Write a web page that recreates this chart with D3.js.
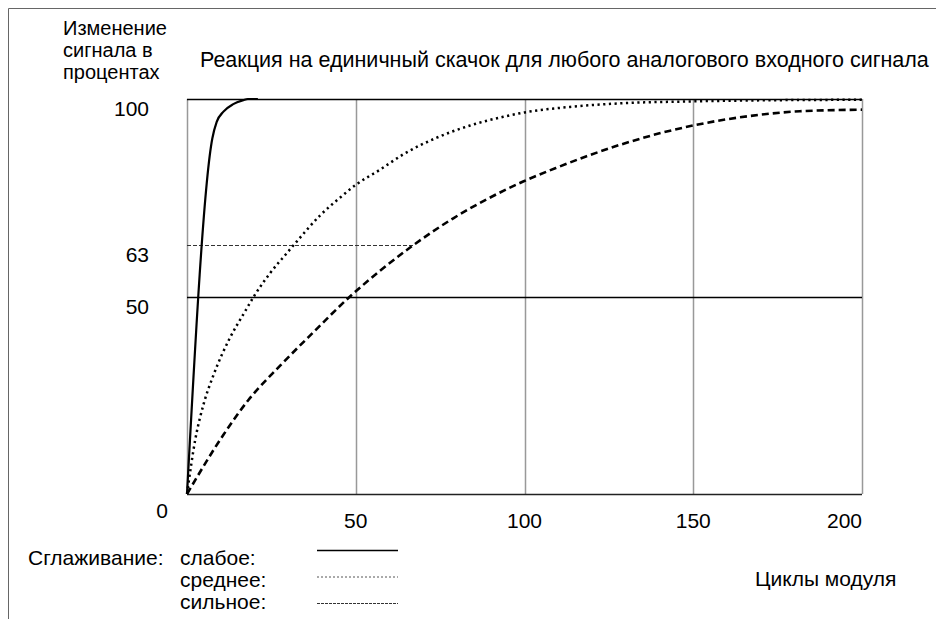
<!DOCTYPE html>
<html><head><meta charset="utf-8">
<script src="https://cdn.jsdelivr.net/npm/d3@7/dist/d3.min.js"></script>
<style>
html,body{margin:0;padding:0;background:#fff;}
svg{display:block;font-family:"Liberation Sans",Arial,sans-serif;}
</style></head>
<body><svg id="chart" width="936" height="619"></svg>
<script>
// ---- data ----
const xTicks = [0, 50, 100, 150, 200];
const yTicks = [100, 63, 50];
const weakX = [0, 7.5, 8.8, 10.8, 13.7, 16.7, 18, 21];
const weakY = [0, 90, 94.2, 96.8, 98.7, 99.7, 100, 100];
const mediumX = [0, 2.5, 5, 7.8, 12.7, 16.7, 20.1, 24.6, 29.5, 32.5, 39.4, 45.3, 50.2, 57, 64.1, 74, 83.9, 93.7, 100, 113.5, 128.3, 150, 175, 200];
const mediumY = [0, 14, 23, 30, 39.5, 45.5, 50.4, 55.9, 60.9, 63.9, 70.5, 75, 78.4, 82, 86, 90.2, 93.3, 95.5, 96.6, 98, 98.9, 99.4, 99.7, 99.8];
const strongX = [0, 10.8, 18.2, 27.6, 37.5, 48.3, 57.2, 66.1, 78.9, 88.8, 99.6, 109.5, 118.4, 128.3, 140, 150, 166.8, 181.6, 200];
const strongY = [0, 15, 23.8, 32.5, 41, 50, 56.5, 62.4, 69.8, 74.6, 79.1, 82.6, 85.5, 88.4, 91.3, 93.3, 95.7, 96.9, 97.3];
const refLevel = 63, refEnd = 67;
const yTitle = ["Изменение", "сигнала в", "процентах"];
const title = "Реакция на единичный скачок для любого аналогового входного сигнала";
const legendTitle = "Сглаживание:";
const legendLabels = ["слабое:", "среднее:", "сильное:"];
const xTitle = "Циклы модуля";

// ---- drawing ----
const svg = d3.select("#chart");
const x = d3.scaleLinear().domain([0, 200]).range([187, 862]);
const y = d3.scaleLinear().domain([0, 100]).range([494, 99]);

// frame
svg.append("path").attr("d", "M8.5,619V8.5H936").attr("fill", "none").attr("stroke", "#666").attr("stroke-width", 1);

// vertical gridlines (gray)
svg.selectAll(".vg").data(xTicks).enter().append("line")
  .attr("x1", d => Math.round(x(d)) + 0.5).attr("x2", d => Math.round(x(d)) + 0.5)
  .attr("y1", y(100)).attr("y2", y(0))
  .attr("stroke", "#999").attr("stroke-width", 1.5);

// horizontal lines 100 and 50 (black) and bottom axis
svg.selectAll(".hg").data([100, 50, 0]).enter().append("line")
  .attr("x1", x(0)).attr("x2", x(200))
  .attr("y1", d => Math.round(y(d)) + 0.5).attr("y2", d => Math.round(y(d)) + 0.5)
  .attr("stroke", d => d === 0 ? "#222" : "#000").attr("stroke-width", 1.3);

// 63 reference
svg.append("line").attr("x1", x(0)).attr("x2", x(refEnd))
  .attr("y1", Math.round(y(refLevel)) + 0.5).attr("y2", Math.round(y(refLevel)) + 0.5)
  .attr("stroke", "#333").attr("stroke-width", 1).attr("stroke-dasharray", "4,2");

const line = d3.line().x(d => x(d[0])).y(d => y(d[1])).curve(d3.curveMonotoneX);
const zip = (a, b) => a.map((v, i) => [v, b[i]]);

svg.append("path").datum(zip(strongX, strongY)).attr("d", line)
  .attr("fill", "none").attr("stroke", "#000").attr("stroke-width", 2.6).attr("stroke-dasharray", "7,4");
svg.append("path").datum(zip(mediumX, mediumY)).attr("d", line)
  .attr("fill", "none").attr("stroke", "#000").attr("stroke-width", 2.5).attr("stroke-dasharray", "2.2,3.5");
svg.append("path").datum(zip(weakX, weakY)).attr("d", line)
  .attr("fill", "none").attr("stroke", "#000").attr("stroke-width", 2.2);

// texts
const fs = 21;
svg.selectAll(".yt").data(yTitle).enter().append("text")
  .attr("x", 63).attr("y", (d, i) => 35 + i * 22).attr("font-size", 20).attr("fill", "#000").text(d => d);
svg.append("text").attr("x", 200).attr("y", 67).attr("font-size", 21.5).attr("fill", "#000").text(title);

svg.selectAll(".ytl").data(yTicks).enter().append("text")
  .attr("x", 149).attr("y", d => y(d) + 17).attr("text-anchor", "end")
  .attr("font-size", fs).attr("fill", "#000").text(d => d);

svg.selectAll(".xtl").data(xTicks).enter().append("text")
  .attr("x", d => d === 0 ? x(d) - 25 : x(d))
  .attr("y", d => d === 0 ? 518 : 528)
  .attr("text-anchor", d => d === 200 ? "end" : "middle")
  .attr("font-size", fs).attr("fill", "#000").text(d => d);

// legend
svg.append("text").attr("x", 28).attr("y", 565).attr("font-size", fs).text(legendTitle);
svg.selectAll(".ll").data(legendLabels).enter().append("text")
  .attr("x", 180).attr("y", (d, i) => 565 + i * 22).attr("font-size", fs).text(d => d);
const legStyles = [
  {dash: null, w: 1.4, c: "#000"},
  {dash: "2,2", w: 1, c: "#555"},
  {dash: "3,1", w: 1, c: "#333"}
];
svg.selectAll(".lg").data(legStyles).enter().append("line")
  .attr("x1", 317).attr("x2", 398)
  .attr("y1", (d, i) => 550.5 + i * 26.5).attr("y2", (d, i) => 550.5 + i * 26.5)
  .attr("stroke", d => d.c).attr("stroke-width", d => d.w)
  .attr("stroke-dasharray", d => d.dash);

svg.append("text").attr("x", 755).attr("y", 586).attr("font-size", fs).text(xTitle);
</script></body></html>
